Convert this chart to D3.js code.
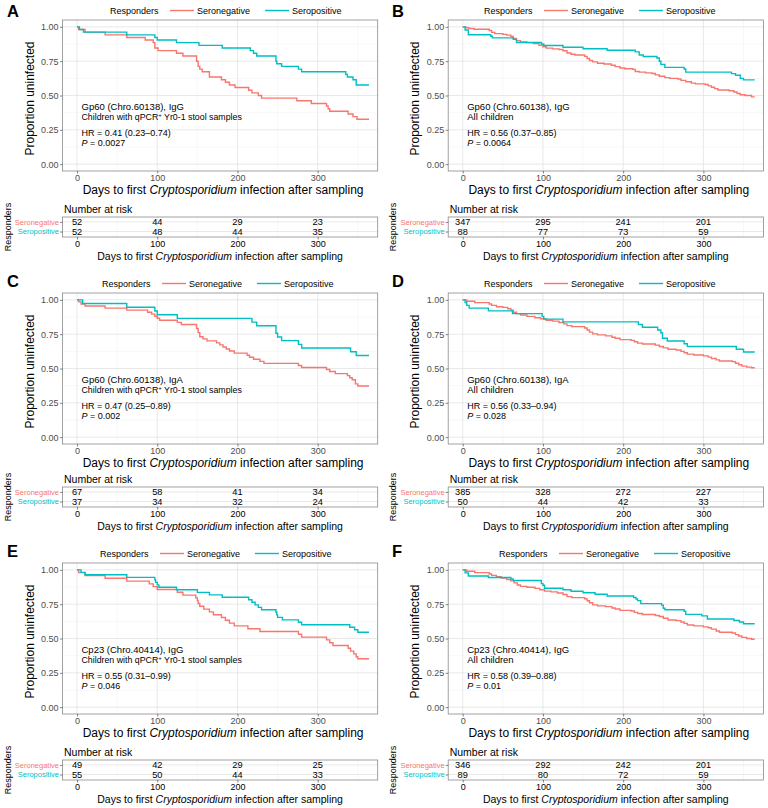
<!DOCTYPE html>
<html>
<head>
<meta charset="utf-8">
<script src="https://cdn.jsdelivr.net/npm/d3@7"></script>
<style>
body { margin: 0; background: #fff; }
svg text { font-family: "Liberation Sans", Arial, sans-serif; }
</style>
</head>
<body>
<svg id="fig" width="768" height="808"></svg>
<script>
//=========================== data ============================================

var panelIds = ['A', 'B', 'C', 'D', 'E', 'F'];
var groups = ['Seronegative', 'Seropositive'];
var riskDays = [0, 100, 200, 300];
var xTicks = [0, 100, 200, 300];
var yTicks = [0, 0.25, 0.5, 0.75, 1];

// [day, proportion uninfected after the step]
var A_neg = [[0,1],[2,0.981],[10,0.962],[35,0.942],[62,0.923],[85,0.904],[95,0.885],[97,0.846],[101,0.827],[124,0.808],[132,0.788],[149,0.75],[151,0.712],[153,0.692],[156,0.673],[165,0.635],[180,0.615],[185,0.596],[190,0.577],[197,0.558],[214,0.538],[218,0.519],[226,0.5],[230,0.481],[274,0.462],[292,0.442],[311,0.423],[313,0.404],[315,0.385],[338,0.365],[344,0.346],[349,0.327],[364,0.327]];
var A_pos = [[0,1],[3,0.981],[8,0.962],[62,0.942],[97,0.923],[100,0.904],[124,0.885],[152,0.865],[181,0.846],[216,0.827],[220,0.808],[224,0.788],[248,0.75],[249,0.731],[255,0.712],[276,0.692],[280,0.673],[335,0.654],[337,0.635],[344,0.615],[348,0.577],[364,0.577]];
var B_neg = [[0,1],[4,0.994],[8,0.988],[14,0.983],[33,0.974],[36,0.96],[40,0.951],[50,0.945],[55,0.94],[60,0.93],[63,0.915],[67,0.9],[72,0.89],[80,0.885],[88,0.879],[95,0.865],[100,0.855],[104,0.845],[112,0.84],[120,0.835],[125,0.826],[130,0.81],[135,0.8],[140,0.795],[152,0.785],[155,0.77],[158,0.755],[162,0.745],[168,0.735],[176,0.73],[185,0.72],[190,0.71],[196,0.7],[202,0.695],[212,0.69],[215,0.675],[220,0.67],[228,0.665],[236,0.66],[240,0.65],[245,0.64],[252,0.63],[258,0.625],[268,0.62],[272,0.61],[278,0.6],[285,0.59],[290,0.585],[302,0.58],[306,0.57],[310,0.56],[314,0.55],[318,0.54],[332,0.535],[338,0.525],[342,0.515],[346,0.505],[352,0.5],[360,0.49],[364,0.49]];
var B_pos = [[0,1],[3,0.977],[7,0.943],[35,0.932],[37,0.92],[63,0.909],[67,0.886],[98,0.875],[101,0.864],[125,0.852],[150,0.841],[180,0.83],[215,0.818],[220,0.795],[225,0.784],[242,0.773],[245,0.75],[247,0.727],[252,0.705],[276,0.693],[278,0.67],[335,0.659],[340,0.648],[346,0.625],[350,0.614],[364,0.614]];
var C_neg = [[0,1],[2,0.985],[5,0.97],[10,0.955],[35,0.94],[62,0.925],[88,0.91],[93,0.896],[97,0.881],[100,0.866],[103,0.851],[125,0.836],[130,0.821],[149,0.791],[151,0.761],[153,0.731],[157,0.716],[162,0.701],[174,0.687],[178,0.672],[182,0.657],[186,0.642],[190,0.627],[196,0.612],[212,0.597],[215,0.582],[220,0.567],[228,0.552],[233,0.537],[276,0.522],[280,0.507],[311,0.493],[315,0.478],[322,0.463],[337,0.448],[340,0.433],[343,0.418],[347,0.388],[350,0.373],[364,0.373]];
var C_pos = [[0,1],[7,0.973],[62,0.946],[97,0.919],[100,0.892],[125,0.865],[218,0.838],[224,0.811],[248,0.757],[250,0.73],[255,0.703],[276,0.676],[280,0.649],[341,0.622],[348,0.595],[364,0.595]];
var D_neg = [[0,1],[5,0.99],[15,0.98],[33,0.97],[36,0.96],[42,0.95],[50,0.945],[56,0.935],[60,0.925],[63,0.91],[67,0.9],[72,0.89],[80,0.88],[90,0.87],[97,0.862],[104,0.852],[112,0.845],[120,0.835],[126,0.825],[130,0.812],[136,0.805],[152,0.795],[155,0.78],[158,0.765],[162,0.752],[168,0.745],[178,0.738],[186,0.728],[190,0.72],[196,0.71],[210,0.705],[214,0.695],[218,0.685],[224,0.678],[240,0.67],[245,0.66],[250,0.65],[256,0.64],[266,0.635],[272,0.625],[276,0.615],[280,0.605],[288,0.598],[300,0.592],[306,0.583],[310,0.573],[316,0.563],[320,0.555],[336,0.55],[340,0.538],[344,0.527],[348,0.517],[354,0.51],[360,0.505],[364,0.505]];
var D_pos = [[0,1],[3,0.98],[5,0.96],[8,0.94],[32,0.92],[62,0.9],[99,0.88],[101,0.86],[125,0.84],[219,0.82],[224,0.8],[243,0.78],[247,0.76],[249,0.72],[255,0.7],[276,0.68],[280,0.66],[341,0.64],[350,0.62],[364,0.62]];
var E_neg = [[0,1],[2,0.98],[10,0.959],[35,0.939],[62,0.918],[90,0.898],[95,0.878],[100,0.857],[125,0.837],[132,0.816],[148,0.796],[150,0.776],[151,0.755],[153,0.735],[158,0.714],[165,0.694],[170,0.673],[180,0.653],[185,0.633],[190,0.612],[196,0.592],[213,0.571],[228,0.551],[276,0.531],[280,0.51],[311,0.49],[315,0.469],[319,0.449],[338,0.429],[341,0.408],[345,0.388],[348,0.367],[350,0.352],[364,0.352]];
var E_pos = [[0,1],[5,0.982],[10,0.964],[62,0.945],[97,0.927],[98,0.909],[100,0.891],[102,0.873],[124,0.855],[150,0.836],[165,0.818],[181,0.8],[214,0.782],[218,0.764],[222,0.745],[226,0.727],[230,0.709],[248,0.691],[249,0.672],[250,0.654],[256,0.636],[276,0.618],[280,0.6],[340,0.582],[346,0.564],[350,0.545],[364,0.545]];
var F_neg = [[0,1],[5,0.99],[15,0.98],[33,0.97],[36,0.96],[42,0.95],[48,0.94],[55,0.93],[60,0.92],[64,0.905],[68,0.89],[72,0.88],[80,0.873],[90,0.865],[96,0.855],[102,0.845],[110,0.84],[118,0.832],[125,0.82],[130,0.805],[136,0.798],[152,0.79],[155,0.775],[158,0.76],[162,0.745],[168,0.738],[178,0.732],[186,0.722],[190,0.715],[196,0.705],[210,0.7],[214,0.69],[218,0.682],[224,0.675],[240,0.668],[245,0.66],[250,0.648],[256,0.635],[266,0.63],[272,0.62],[276,0.61],[280,0.598],[288,0.592],[300,0.585],[306,0.578],[310,0.568],[316,0.555],[320,0.545],[336,0.54],[340,0.528],[344,0.518],[348,0.508],[354,0.5],[360,0.495],[364,0.495]];
var F_pos = [[0,1],[3,0.978],[7,0.955],[32,0.944],[60,0.933],[63,0.922],[98,0.9],[100,0.888],[102,0.866],[125,0.855],[135,0.844],[150,0.833],[165,0.822],[180,0.81],[213,0.799],[216,0.788],[218,0.776],[222,0.754],[248,0.743],[250,0.72],[252,0.709],[276,0.698],[278,0.676],[298,0.665],[305,0.642],[338,0.631],[345,0.62],[350,0.608],[364,0.608]];

// number at risk at riskDays
var riskNeg = [[52,44,29,23],[347,295,241,201],[67,58,41,34],[385,328,272,227],[49,42,29,25],[346,292,242,201]];
var riskPos = [[52,48,44,35],[88,77,73,59],[37,34,32,24],[50,44,42,33],[55,50,44,33],[89,80,72,59]];

var antigens = ['Gp60 (Chro.60138), IgG', 'Gp60 (Chro.60138), IgG', 'Gp60 (Chro.60138), IgA', 'Gp60 (Chro.60138), IgA', 'Cp23 (Chro.40414), IgG', 'Cp23 (Chro.40414), IgG'];
var cohorts = ['qpcr', 'all', 'qpcr', 'all', 'qpcr', 'all'];
var hrTexts = ['HR = 0.41 (0.23\u20130.74)', 'HR = 0.56 (0.37\u20130.85)', 'HR = 0.47 (0.25\u20130.89)', 'HR = 0.56 (0.33\u20130.94)', 'HR = 0.55 (0.31\u20130.99)', 'HR = 0.58 (0.39\u20130.88)'];
var pTexts = ['0.0027', '0.0064', '0.002', '0.028', '0.046', '0.01'];

var curvesNeg = [A_neg, B_neg, C_neg, D_neg, E_neg, F_neg];
var curvesPos = [A_pos, B_pos, C_pos, D_pos, E_pos, F_pos];

//=========================== layout ==========================================

var colors = { Seronegative: '#F8766D', Seropositive: '#00BFC4' };
var colLeft = [62.5, 448.2];
var panelW = 315.2;
var rowTop = [20, 293, 563];
var plotH = 151;
var tableTop = [217, 487, 760];
var tableH = 20;
var letterY = [17, 287, 557];
var legendX = [110, 484, 102, 484, 100, 499];

var svg = d3.select('#fig');

//=========================== drawing =========================================

function xTitle(sel, x, y, size) {
    var t = sel.append('text')
        .attr('x', x).attr('y', y)
        .attr('text-anchor', 'middle')
        .style('font-size', size + 'px')
        .attr('fill', '#000');
    t.append('tspan').text('Days to first ');
    t.append('tspan').style('font-style', 'italic').text('Cryptosporidium');
    t.append('tspan').text(' infection after sampling');
}

function styleAxis(g, size) {
    g.select('.domain').remove();
    g.selectAll('.tick line').attr('stroke', '#333').attr('stroke-width', 0.6);
    g.selectAll('.tick text')
        .attr('fill', '#4d4d4d')
        .style('font-size', size + 'px')
        .style('font-family', '"Liberation Sans", Arial, sans-serif');
}

function drawPanel(i) {
    var col = i % 2, row = Math.floor(i / 2);
    var left = colLeft[col], right = left + panelW;
    var top = rowTop[row], bottom = top + plotH;
    var g = svg.append('g');

    var x = d3.scaleLinear().domain([-18.1, 374.8]).range([left, right]);
    var y = d3.scaleLinear().domain([-0.05, 1.05]).range([bottom, top]);

    // panel letter
    g.append('text')
        .attr('x', col ? 392 : 7).attr('y', letterY[row])
        .style('font-size', '16.5px').style('font-weight', 'bold')
        .text(panelIds[i]);

    // legend
    var lx = legendX[i], ly = top - 9.5;
    g.append('text').attr('x', lx).attr('y', ly + 3.2)
        .style('font-size', '9px').text('Responders');
    [[60, 87, 'Seronegative'], [155, 182, 'Seropositive']].forEach(function(d) {
        g.append('line')
            .attr('x1', lx + d[0]).attr('x2', lx + d[0] + 24)
            .attr('y1', ly).attr('y2', ly)
            .attr('stroke', colors[d[2]]).attr('stroke-width', 1.4);
        g.append('text').attr('x', lx + d[1]).attr('y', ly + 3.2)
            .style('font-size', '9px').text(d[2]);
    });

    // grid
    g.append('rect').attr('x', left).attr('y', top)
        .attr('width', panelW).attr('height', plotH).attr('fill', '#fff');
    g.selectAll('.vmin').data([50, 150, 250, 350]).enter().append('line')
        .attr('x1', d => x(d)).attr('x2', d => x(d))
        .attr('y1', top).attr('y2', bottom)
        .attr('stroke', '#f0f0f0').attr('stroke-width', 0.5);
    g.selectAll('.hmin').data([0.125, 0.375, 0.625, 0.875]).enter().append('line')
        .attr('x1', left).attr('x2', right)
        .attr('y1', d => y(d)).attr('y2', d => y(d))
        .attr('stroke', '#f0f0f0').attr('stroke-width', 0.5);
    g.selectAll('.vmaj').data(xTicks).enter().append('line')
        .attr('x1', d => x(d)).attr('x2', d => x(d))
        .attr('y1', top).attr('y2', bottom)
        .attr('stroke', '#e3e3e3').attr('stroke-width', 0.8);
    g.selectAll('.hmaj').data(yTicks).enter().append('line')
        .attr('x1', left).attr('x2', right)
        .attr('y1', d => y(d)).attr('y2', d => y(d))
        .attr('stroke', '#e3e3e3').attr('stroke-width', 0.8);

    // curves
    var line = d3.line()
        .x(d => x(d[0])).y(d => y(d[1]))
        .curve(d3.curveStepAfter);
    [[curvesNeg[i], 'Seronegative'], [curvesPos[i], 'Seropositive']].forEach(function(c) {
        g.append('path').datum(c[0])
            .attr('d', line)
            .attr('fill', 'none')
            .attr('stroke', colors[c[1]])
            .attr('stroke-width', 1.4);
    });

    g.append('rect').attr('x', left).attr('y', top)
        .attr('width', panelW).attr('height', plotH)
        .attr('fill', 'none').attr('stroke', '#8a8a8a').attr('stroke-width', 0.8);

    // axes
    var ya = g.append('g').attr('transform', 'translate(' + left + ',0)')
        .call(d3.axisLeft(y).tickValues(yTicks).tickSize(2.5).tickPadding(1.5).tickFormat(d3.format('.2f')));
    styleAxis(ya, 9);
    var xa = g.append('g').attr('transform', 'translate(0,' + bottom + ')')
        .call(d3.axisBottom(x).tickValues(xTicks).tickSize(2.5).tickPadding(1));
    styleAxis(xa, 9);

    g.append('text')
        .attr('transform', 'translate(' + (left - 29) + ',' + (top + plotH / 2 + 3) + ') rotate(-90)')
        .attr('text-anchor', 'middle')
        .style('font-size', '12px')
        .text('Proportion uninfected');
    xTitle(g, (left + right) / 2 + 3, bottom + 23.3, 12);

    // annotation
    var ax = left + 19;
    g.append('text').attr('x', ax).attr('y', top + 90).style('font-size', '9.5px').text(antigens[i]);
    var c2 = g.append('text').attr('x', ax).attr('y', top + 100).style('font-size', '8.8px');
    if (cohorts[i] === 'qpcr') {
        c2.append('tspan').text('Children with qPCR');
        c2.append('tspan').attr('dy', -3).style('font-size', '6px').text('+');
        c2.append('tspan').attr('dy', 3).text(' Yr0-1 stool samples');
    } else {
        c2.style('font-size', '9.5px').text('All children');
    }
    g.append('text').attr('x', ax).attr('y', top + 116).style('font-size', '9px').text(hrTexts[i]);
    var pt = g.append('text').attr('x', ax).attr('y', top + 126).style('font-size', '9px');
    pt.append('tspan').style('font-style', 'italic').text('P');
    pt.append('tspan').text(' = ' + pTexts[i]);

    // risk table
    var tt = tableTop[row], tb = tt + tableH;
    var ty = d3.scalePoint().domain(groups).range([tt + 4.9, tt + 14.5]);

    g.append('text').attr('x', left + 1.5).attr('y', tt - 4.5)
        .style('font-size', '10.5px').text('Number at risk');

    g.append('rect').attr('x', left).attr('y', tt)
        .attr('width', panelW).attr('height', tableH).attr('fill', '#fff');
    g.selectAll('.tvmin').data([50, 150, 250, 350]).enter().append('line')
        .attr('x1', d => x(d)).attr('x2', d => x(d))
        .attr('y1', tt).attr('y2', tb)
        .attr('stroke', '#f0f0f0').attr('stroke-width', 0.5);
    g.selectAll('.tvmaj').data(xTicks).enter().append('line')
        .attr('x1', d => x(d)).attr('x2', d => x(d))
        .attr('y1', tt).attr('y2', tb)
        .attr('stroke', '#e3e3e3').attr('stroke-width', 0.8);
    g.selectAll('.thmaj').data(groups).enter().append('line')
        .attr('x1', left).attr('x2', right)
        .attr('y1', d => ty(d)).attr('y2', d => ty(d))
        .attr('stroke', '#e3e3e3').attr('stroke-width', 0.8);

    var rows = [[riskNeg[i], 'Seronegative'], [riskPos[i], 'Seropositive']];
    rows.forEach(function(r) {
        g.selectAll(null).data(r[0]).enter().append('text')
            .attr('x', (d, j) => x(riskDays[j]))
            .attr('y', ty(r[1]) + 3.3)
            .attr('text-anchor', 'middle')
            .style('font-size', '9.2px')
            .text(d => d);
    });

    g.append('rect').attr('x', left).attr('y', tt)
        .attr('width', panelW).attr('height', tableH)
        .attr('fill', 'none').attr('stroke', '#8a8a8a').attr('stroke-width', 0.8);

    var tya = g.append('g').attr('transform', 'translate(' + left + ',0)')
        .call(d3.axisLeft(ty).tickSize(2.5).tickPadding(1));
    styleAxis(tya, 7.5);
    tya.selectAll('.tick text').attr('fill', d => colors[d]);

    var txa = g.append('g').attr('transform', 'translate(0,' + tb + ')')
        .call(d3.axisBottom(x).tickValues(xTicks).tickSize(2.5).tickPadding(1));
    styleAxis(txa, 9);
    txa.selectAll('.tick text').attr('fill', '#000');

    g.append('text')
        .attr('transform', 'translate(' + (left - 52) + ',' + (tt + tableH / 2) + ') rotate(-90)')
        .attr('text-anchor', 'middle')
        .style('font-size', '9px')
        .text('Responders');
    xTitle(g, (left + right) / 2, tb + 23, 10.5);
}

panelIds.forEach(function(id, i) { drawPanel(i); });
</script>
</body>
</html>
